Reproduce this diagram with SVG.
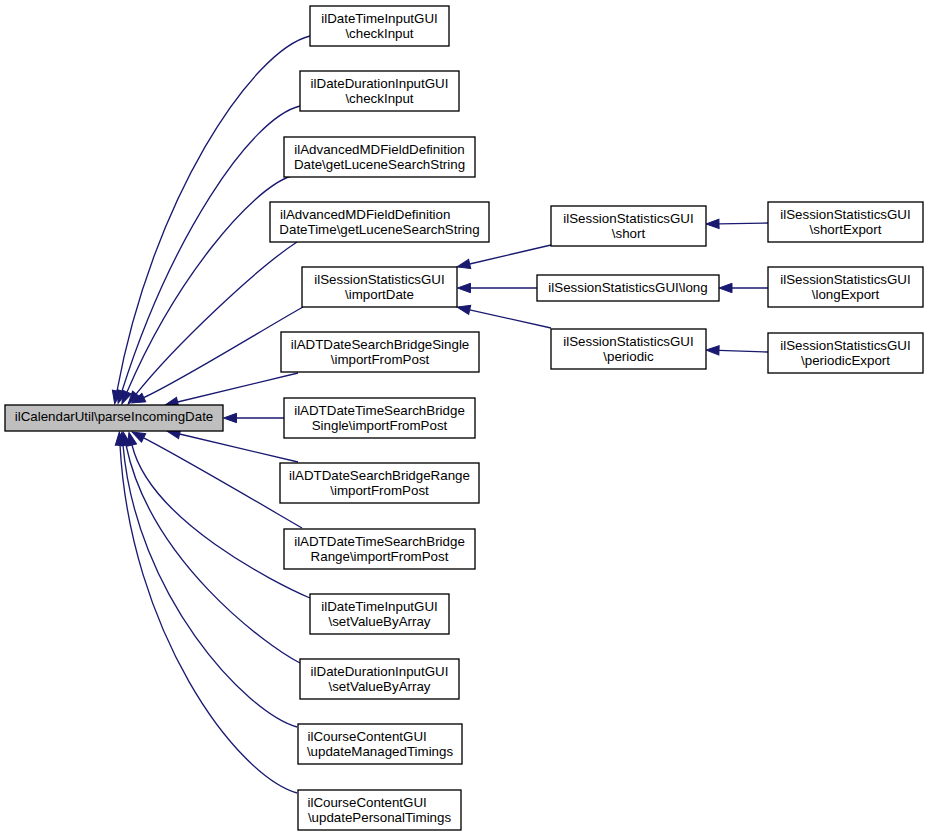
<svg xmlns="http://www.w3.org/2000/svg" width="928" height="836" viewBox="0 0 928 836">
<style>
.node rect{fill:#ffffff;stroke:#000000;stroke-width:1.33}
.root rect{fill:#bfbfbf}
text{font-family:"Liberation Sans",Arial,Helvetica,sans-serif;font-size:13.33px;fill:#000000;text-anchor:middle}
text.l{text-anchor:start}
.edges path{fill:none;stroke:#191970;stroke-width:1.33;marker-end:url(#arrow)}
</style>
<defs>
<marker id="arrow" markerUnits="userSpaceOnUse" markerWidth="14" markerHeight="10" refX="0" refY="4.7" orient="auto" viewBox="0 0 14 9.4" overflow="visible">
<path d="M0,0 L13,4.7 L0,9.4 Z" fill="#191970" stroke="#191970" stroke-width="1"/>
</marker>
</defs>
<rect width="928" height="836" fill="#ffffff"/>
<g class="edges" id="edges">
<path d="M310,36 C252,50 152,200 117,391"/>
<path d="M300,106 C250,118 170,240 122,391"/>
<path d="M291,176 C250,190 175,280 127,392"/>
<path d="M297,242 C255,269.5 173.7,347 136.2,393.9"/>
<path d="M303,307 C263.8,329 180.2,381 143.8,397.6"/>
<path d="M298,373 L177.6,402"/>
<path d="M284,418 L236.5,418"/>
<path d="M298,462 L179.6,434"/>
<path d="M302,528 C263,505.4 179.2,456 143.6,437.9"/>
<path d="M310,598 C275,583 150,520 132,445"/>
<path d="M300,663 C265,645 150,560 126,445"/>
<path d="M297,727 C245,712 136,595 123,445"/>
<path d="M297,793 C235,775 130,630 120,445"/>
<path d="M551,245 L469.7,264"/>
<path d="M537,288 L470.5,288"/>
<path d="M551,328 L469.7,309.8"/>
<path d="M768,223 L719,223.8"/>
<path d="M768,288 L732,288"/>
<path d="M768,352 L719,350.4"/>
</g>
<g class="node root" id="node_root"><rect x="5" y="405" width="218" height="26"/><text x="114" y="420.7">ilCalendarUtil\parseIncomingDate</text></g>
<g class="node" id="node_dtinput_check"><rect x="310" y="6" width="139" height="40"/><text x="379.5" y="22.5">ilDateTimeInputGUI</text><text x="379.5" y="37.5">\checkInput</text></g>
<g class="node" id="node_ddinput_check"><rect x="300" y="71" width="159" height="40"/><text x="379.5" y="87.5">ilDateDurationInputGUI</text><text x="379.5" y="102.5">\checkInput</text></g>
<g class="node" id="node_amd_date"><rect x="284" y="137" width="191" height="40"/><text x="379.5" y="153.5">ilAdvancedMDFieldDefinition</text><text x="379.5" y="168.5">Date\getLuceneSearchString</text></g>
<g class="node" id="node_amd_datetime"><rect x="270" y="202" width="219" height="40"/><text class="l" x="280" y="218.5">ilAdvancedMDFieldDefinition</text><text x="379.5" y="233.5">DateTime\getLuceneSearchString</text></g>
<g class="node" id="node_importdate"><rect x="302" y="267" width="155" height="40"/><text x="379.5" y="283.5">ilSessionStatisticsGUI</text><text x="379.5" y="298.5">\importDate</text></g>
<g class="node" id="node_adt_date_single"><rect x="281" y="332" width="198" height="40"/><text x="380" y="348.5">ilADTDateSearchBridgeSingle</text><text x="380" y="363.5">\importFromPost</text></g>
<g class="node" id="node_adt_datetime_single"><rect x="284" y="398" width="191" height="40"/><text x="379.5" y="414.5">ilADTDateTimeSearchBridge</text><text x="379.5" y="429.5">Single\importFromPost</text></g>
<g class="node" id="node_adt_date_range"><rect x="280" y="463" width="199" height="40"/><text x="379.5" y="479.5">ilADTDateSearchBridgeRange</text><text x="379.5" y="494.5">\importFromPost</text></g>
<g class="node" id="node_adt_datetime_range"><rect x="284" y="529" width="191" height="40"/><text x="379.5" y="545.5">ilADTDateTimeSearchBridge</text><text x="379.5" y="560.5">Range\importFromPost</text></g>
<g class="node" id="node_dtinput_set"><rect x="310" y="594" width="139" height="40"/><text x="379.5" y="610.5">ilDateTimeInputGUI</text><text x="379.5" y="625.5">\setValueByArray</text></g>
<g class="node" id="node_ddinput_set"><rect x="300" y="659" width="159" height="40"/><text x="379.5" y="675.5">ilDateDurationInputGUI</text><text x="379.5" y="690.5">\setValueByArray</text></g>
<g class="node" id="node_cc_managed"><rect x="298" y="724" width="164" height="40"/><text class="l" x="307.5" y="740.5">ilCourseContentGUI</text><text x="380" y="755.5">\updateManagedTimings</text></g>
<g class="node" id="node_cc_personal"><rect x="298" y="790" width="163" height="40"/><text class="l" x="307.5" y="806.5">ilCourseContentGUI</text><text x="379.5" y="821.5">\updatePersonalTimings</text></g>
<g class="node" id="node_short"><rect x="551" y="206" width="155" height="40"/><text x="628.5" y="222.5">ilSessionStatisticsGUI</text><text x="628.5" y="237.5">\short</text></g>
<g class="node" id="node_long"><rect x="537" y="275" width="182" height="26"/><text x="628" y="291.5">ilSessionStatisticsGUI\long</text></g>
<g class="node" id="node_periodic"><rect x="551" y="329" width="155" height="40"/><text x="628.5" y="345.5">ilSessionStatisticsGUI</text><text x="628.5" y="360.5">\periodic</text></g>
<g class="node" id="node_shortexport"><rect x="768" y="202" width="155" height="40"/><text x="845.5" y="218.5">ilSessionStatisticsGUI</text><text x="845.5" y="233.5">\shortExport</text></g>
<g class="node" id="node_longexport"><rect x="768" y="267" width="155" height="40"/><text x="845.5" y="283.5">ilSessionStatisticsGUI</text><text x="845.5" y="298.5">\longExport</text></g>
<g class="node" id="node_periodicexport"><rect x="768" y="333" width="155" height="40"/><text x="845.5" y="349.5">ilSessionStatisticsGUI</text><text x="845.5" y="364.5">\periodicExport</text></g>
</svg>
